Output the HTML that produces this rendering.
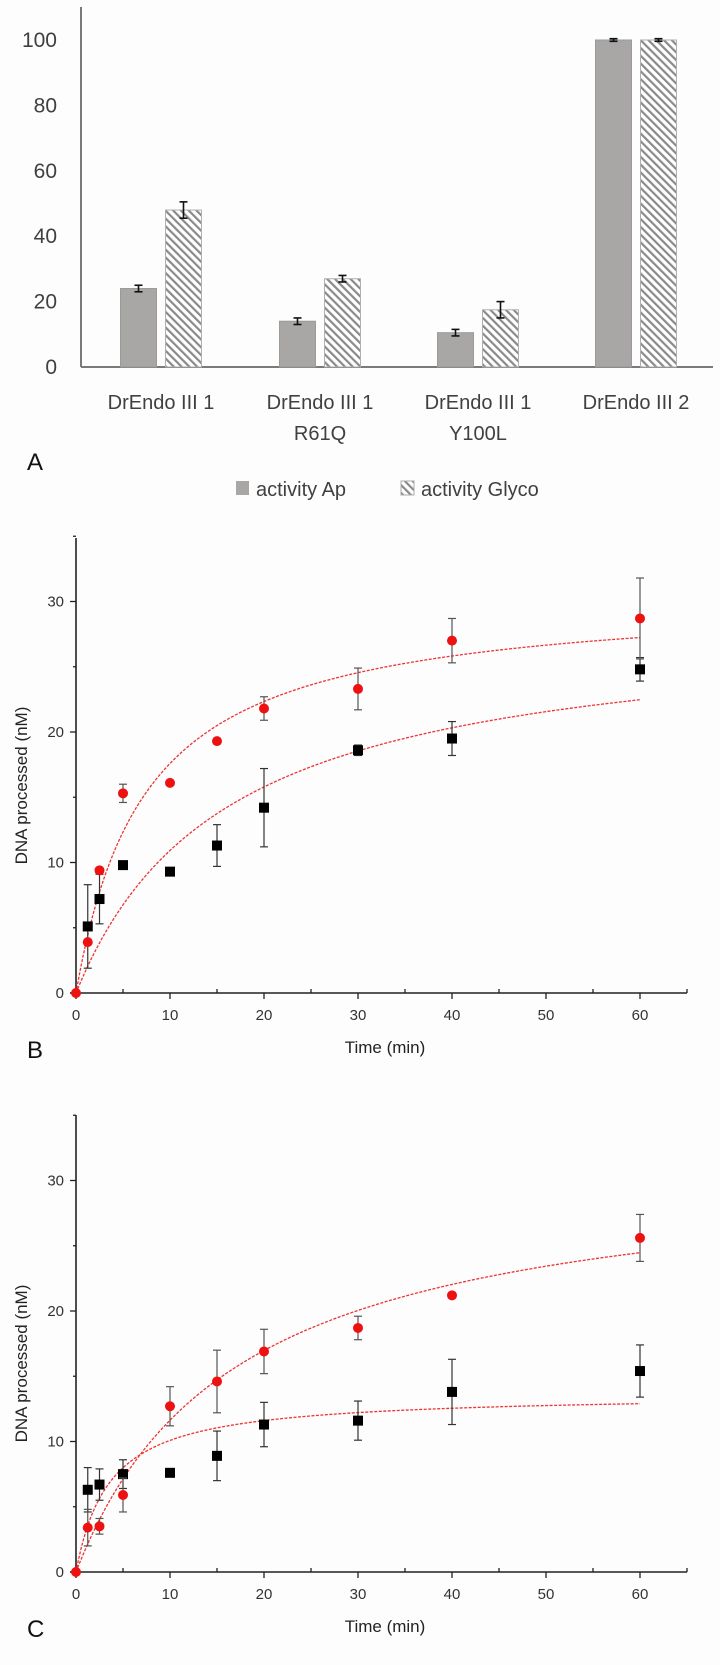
<!DOCTYPE html>
<html><head><meta charset="utf-8"><style>
html,body{margin:0;padding:0;background:#fff}
svg{display:block}
text{font-family:"Liberation Sans",sans-serif}
</style></head><body>
<svg id="fig" width="720" height="1665" viewBox="0 0 720 1665" xmlns="http://www.w3.org/2000/svg">
<defs>
<pattern id="hatch" patternUnits="userSpaceOnUse" width="5.5" height="5.5" patternTransform="rotate(-45)">
<rect width="5.5" height="5.5" fill="#fff"/>
<rect x="0" y="0" width="2.2" height="5.5" fill="#8a8a8a"/>
</pattern>
</defs>
<rect width="720" height="1665" fill="#fdfdfd"/>
<g id="panelA"></g>
<g id="panelB"></g>
<g id="panelC"></g>
</svg>
<script>
// ---- Panel A data ----
const catLine1 = ["DrEndo III 1","DrEndo III 1","DrEndo III 1","DrEndo III 2"];
const catLine2 = ["","R61Q","Y100L",""];
const apValues = [24, 14, 10.5, 100];
const apErrors = [1, 1, 1, 0.4];
const glycoValues = [48, 27, 17.5, 100];
const glycoErrors = [2.5, 1, 2.5, 0.4];
const aTicks = [0, 20, 40, 60, 80, 100];

// ---- Panel B data ----
const bTimes = [0, 1.25, 2.5, 5, 10, 15, 20, 30, 40, 60];
const bRed = [0, 3.9, 9.4, 15.3, 16.1, 19.3, 21.8, 23.3, 27.0, 28.7];
const bRedErr = [0, 0, 0, 0.7, 0, 0, 0.9, 1.6, 1.7, 3.1];
const bBlack = [null, 5.1, 7.2, 9.8, 9.3, 11.3, 14.2, 18.6, 19.5, 24.8];
const bBlackErr = [0, 3.2, 1.9, 0, 0, 1.6, 3.0, 0.4, 1.3, 0.9];
const bRedFit = [30.6, 7.4];   // Vmax, K
const bBlackFit = [28.5, 16.1];

// ---- Panel C data ----
const cTimes = [0, 1.25, 2.5, 5, 10, 15, 20, 30, 40, 60];
const cRed = [0, 3.4, 3.5, 5.9, 12.7, 14.6, 16.9, 18.7, 21.2, 25.6];
const cRedErr = [0, 1.4, 0.6, 1.3, 1.5, 2.4, 1.7, 0.9, 0.2, 1.8];
const cBlack = [null, 6.3, 6.7, 7.5, 7.6, 8.9, 11.3, 11.6, 13.8, 15.4];
const cBlackErr = [0, 1.7, 1.2, 1.1, 0, 1.9, 1.7, 1.5, 2.5, 2.0];
const cRedFit = [31.4, 17.0];
const cBlackFit = [13.66, 3.55];

const xTicks = [0, 10, 20, 30, 40, 50, 60];
const yTicks = [0, 10, 20, 30];

const NS = "http://www.w3.org/2000/svg";
function mk(parent, tag, attrs, txt) {
  const e = document.createElementNS(NS, tag);
  for (const k in attrs) e.setAttribute(k, attrs[k]);
  if (txt !== undefined) e.textContent = txt;
  parent.appendChild(e);
  return e;
}

// ================= Panel A =================
(function () {
  const g = document.getElementById('panelA');
  const yA = v => 367 - v * 3.27;
  const centers = [161, 320, 478, 636];
  const bw = 36, gap = 9;
  let el = mk(g, 'line', {x1: 81, y1: 7, x2: 81, y2: 367, stroke: '#7a7a7a', 'stroke-width': 2});
  
  
  el = mk(g, 'line', {x1: 81, y1: 367, x2: 713, y2: 367, stroke: '#7a7a7a', 'stroke-width': 2});
  
  
  aTicks.forEach(t => {
    const tl = mk(g, 'text', {x: 57, y: yA(t) + 7, 'text-anchor': 'end', 'font-size': 21, fill: '#404040'}, String(t));
    
    
  });
  function errbar(x, v, e) {
    const gg = mk(g, 'g', {stroke: '#111', 'stroke-width': 1.6});
    
    
    mk(gg, 'line', {x1: x, y1: yA(v + e), x2: x, y2: yA(v - e)});
    mk(gg, 'line', {x1: x - 4, y1: yA(v + e), x2: x + 4, y2: yA(v + e)});
    mk(gg, 'line', {x1: x - 4, y1: yA(v - e), x2: x + 4, y2: yA(v - e)});
  }
  catLine1.forEach((c, i) => {
    const xa = centers[i] - gap / 2 - bw, xg = centers[i] + gap / 2;
    const b1 = mk(g, 'rect', {x: xa, y: yA(apValues[i]), width: bw, height: yA(0) - yA(apValues[i]), fill: '#a9a6a6', stroke: '#9a9a9a', 'stroke-width': 1});
    
    
    const b2 = mk(g, 'rect', {x: xg, y: yA(glycoValues[i]), width: bw, height: yA(0) - yA(glycoValues[i]), fill: 'url(#hatch)', stroke: '#b0b0b0', 'stroke-width': 1});
    
    
    errbar(xa + bw / 2, apValues[i], apErrors[i]);
    errbar(xg + bw / 2, glycoValues[i], glycoErrors[i]);
    const l1 = mk(g, 'text', {x: centers[i], y: 409, 'text-anchor': 'middle', 'font-size': 20, fill: '#404040'}, c);
    
    
    if (catLine2[i]) {
      const l2 = mk(g, 'text', {x: centers[i], y: 440, 'text-anchor': 'middle', 'font-size': 20, fill: '#404040'}, catLine2[i]);
      
      
    }
  });
  let t = mk(g, 'text', {x: 27, y: 470, 'font-size': 24, fill: '#111'}, 'A');
  
  
  const lg = mk(g, 'g', {});
  
  
  let s = mk(lg, 'rect', {x: 236, y: 481, width: 13, height: 14, fill: '#a9a6a6'});
  
  
  t = mk(lg, 'text', {x: 256, y: 496, 'font-size': 20, fill: '#404040'}, 'activity Ap');
  
  
  s = mk(lg, 'rect', {x: 401, y: 481, width: 13, height: 14, fill: 'url(#hatch)', stroke: '#aaa'});
  
  
  t = mk(lg, 'text', {x: 421, y: 496, 'font-size': 20, fill: '#404040'}, 'activity Glyco');
  
  
})();

// ================= Panels B & C =================
function kinetics(gid, y0, yTop, times, red, redErr, black, blackErr, redFit, blackFit, label, pfx) {
  const g = document.getElementById(gid);
  const X = t => 76 + t * 9.4;
  const Y = v => y0 - v * 13.05;
  let el = mk(g, 'line', {x1: 76, y1: yTop, x2: 76, y2: y0, stroke: '#222', 'stroke-width': 1.6});
  
  
  el = mk(g, 'line', {x1: 70, y1: y0, x2: X(65), y2: y0, stroke: '#222', 'stroke-width': 1.6});
  
  
  for (let t = 0; t <= 65; t += 5) {
    const major = t % 10 === 0;
    mk(g, 'line', {x1: X(t), y1: y0, x2: X(t), y2: major ? y0 + 6 : y0 - 4, stroke: '#222', 'stroke-width': 1.3});
  }
  xTicks.forEach(t => {
    const tl = mk(g, 'text', {x: X(t), y: y0 + 27, 'text-anchor': 'middle', 'font-size': 15, fill: '#333'}, String(t));
    
    
  });
  for (let v = 0; v <= 35; v += 5) {
    mk(g, 'line', {x1: 76, y1: Y(v), x2: v % 10 === 0 ? 70 : 73, y2: Y(v), stroke: '#222', 'stroke-width': 1.3});
  }
  yTicks.forEach(v => {
    const tl = mk(g, 'text', {x: 64, y: Y(v) + 5, 'text-anchor': 'end', 'font-size': 15, fill: '#333'}, String(v));
    
    
  });
  const ymid = (y0 + yTop) / 2 + 20;
  let t = mk(g, 'text', {x: 27, y: ymid, 'text-anchor': 'middle', 'font-size': 17, fill: '#222', transform: 'rotate(-90 27 ' + ymid + ')'}, 'DNA processed (nM)');
  
  
  t = mk(g, 'text', {x: 385, y: y0 + 60, 'text-anchor': 'middle', 'font-size': 17, fill: '#222'}, 'Time (min)');
  
  
  t = mk(g, 'text', {x: 27, y: y0 + 65, 'font-size': 24, fill: '#111'}, label);
  
  
  [redFit, blackFit].forEach((f, k) => {
    let d = '';
    for (let i = 0; i <= 240; i++) {
      const tt = i * 0.25;
      d += (i ? 'L' : 'M') + X(tt).toFixed(2) + ' ' + Y(f[0] * tt / (f[1] + tt)).toFixed(2);
    }
    const p = mk(g, 'path', {d: d, fill: 'none', stroke: '#ee3333', 'stroke-width': 1.3, 'stroke-dasharray': '3 1.5'});
    
    
  });
  function eb(x, v, e, col) {
    if (!e) return;
    const gg = mk(g, 'g', {stroke: col, 'stroke-width': 1.2});
    
    
    mk(gg, 'line', {x1: x, y1: Y(v + e), x2: x, y2: Y(v - e)});
    mk(gg, 'line', {x1: x - 4, y1: Y(v + e), x2: x + 4, y2: Y(v + e)});
    mk(gg, 'line', {x1: x - 4, y1: Y(v - e), x2: x + 4, y2: Y(v - e)});
  }
  times.forEach((tt, i) => {
    if (black[i] !== null) {
      eb(X(tt), black[i], blackErr[i], '#333');
      const r = mk(g, 'rect', {x: X(tt) - 5, y: Y(black[i]) - 5, width: 10, height: 10, fill: '#000'});
      
      
    }
  });
  times.forEach((tt, i) => {
    eb(X(tt), red[i], redErr[i], '#555');
    const c = mk(g, 'circle', {cx: X(tt), cy: Y(red[i]), r: 5, fill: '#ee1111'});
    
    
  });
}
kinetics('panelB', 993, 538, bTimes, bRed, bRedErr, bBlack, bBlackErr, bRedFit, bBlackFit, 'B', 'b');
kinetics('panelC', 1572, 1115, cTimes, cRed, cRedErr, cBlack, cBlackErr, cRedFit, cBlackFit, 'C', 'c');
</script>
</body></html>
